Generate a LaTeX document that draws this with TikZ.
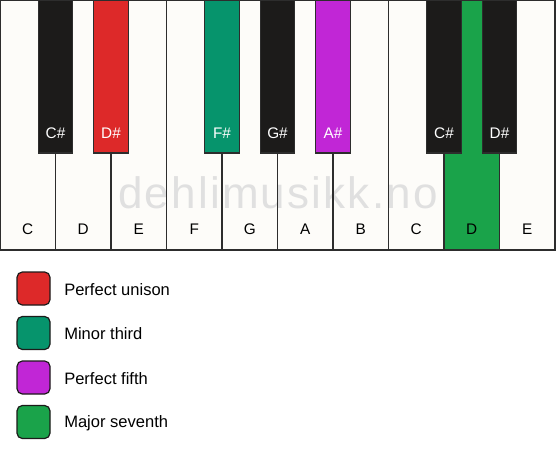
\documentclass[tikz,border=0pt]{standalone}
\usepackage{fontspec}
\setmainfont{Liberation Sans}
\definecolor{keywhite}{RGB}{253,252,249}
\definecolor{keyblack}{RGB}{28,27,26}
\definecolor{edge}{RGB}{45,45,45}
\definecolor{cred}{RGB}{221,41,41}
\definecolor{cteal}{RGB}{6,148,108}
\definecolor{cpurple}{RGB}{193,38,214}
\definecolor{cgreen}{RGB}{26,163,74}
\definecolor{wm}{RGB}{224,224,224}
\tikzset{
  whitekey/.style={draw=edge, line width=1.1pt},
  blackkey/.style={draw=edge, line width=0.9pt},
  wlabel/.style={font=\fontsize{11.5}{13}\selectfont, text=black},
  blabel/.style={font=\fontsize{11.5}{13}\selectfont, text=white},
  legbox/.style={draw=keyblack, line width=0.9pt, rounded corners=4pt},
  legtext/.style={font=\fontsize{12.4}{14}\selectfont, anchor=west, inner sep=0pt, text=black}
}
\begin{document}
\begin{tikzpicture}[x=0.75pt,y=-0.75pt]
\useasboundingbox (0,0) rectangle (556,461);
\fill[white] (0,0) rectangle (556,461);
% white keys fill
\foreach \i in {0,...,9} {
  \fill[keywhite] ({\i*55.5},0) rectangle ({(\i+1)*55.5},250);
}
\fill[cgreen] (444,0) rectangle (499.5,250);
% watermark
\node[text=wm, font=\fontsize{33}{33}\selectfont\addfontfeature{LetterSpace=5}, anchor=base, inner sep=0pt] (wmark) at (278,208) {dehlimusikk.no};
% white key borders
\foreach \i in {0,...,9} {
  \draw[whitekey] ({\i*55.5},0) rectangle ({(\i+1)*55.5},250);
}
% black keys
\foreach \b/\c in {1/keyblack,2/cred,4/cteal,5/keyblack,6/cpurple,8/keyblack,9/keyblack} {
  \filldraw[blackkey, fill=\c] ({\b*55.5-17.25},0) rectangle ({\b*55.5+17.25},153);
}
% white key labels
\foreach \n/\t [count=\k from 0] in {C/C,D/D,E/E,F/F,G/G,A/A,B/B,C2/C,D2/D,E2/E} {
  \node[wlabel] (w\n) at ({\k*55.5+27.75},229.5) {\t};
}
% black key labels
\node[blabel] (bCs) at (55.5,133) {C\#};
\node[blabel] (bDs) at (111,133) {D\#};
\node[blabel] (bFs) at (222,133) {F\#};
\node[blabel] (bGs) at (277.5,133) {G\#};
\node[blabel] (bAs) at (333,133) {A\#};
\node[blabel] (bCs2) at (444,133) {C\#};
\node[blabel] (bDs2) at (499.5,133) {D\#};
% legend
\foreach \y/\c/\t [count=\k] in {288.5/cred/Perfect unison, 333/cteal/Minor third, 377.5/cpurple/Perfect fifth, 422/cgreen/Major seventh} {
  \filldraw[legbox, fill=\c] (17,{\y-16.5}) rectangle (50,{\y+16.5});
  \node[legtext] (leg\k) at (64,{\y+1}) {\t};
}
\end{tikzpicture}
\end{document}
